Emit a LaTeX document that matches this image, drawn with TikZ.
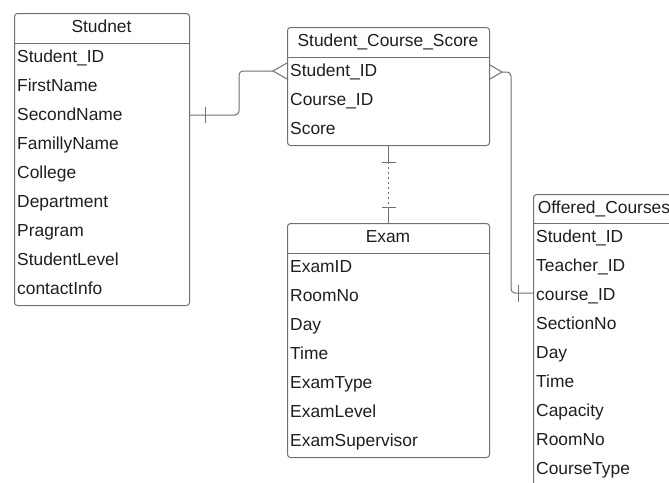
\documentclass[tikz,border=0pt]{standalone}
\usepackage{fontspec}
\setmainfont{Liberation Sans}
\definecolor{boxgray}{HTML}{707070}
\definecolor{textgray}{HTML}{1E1E1E}
\begin{document}
\begin{tikzpicture}[x=1pt,y=-1pt,
  entity/.style={draw=boxgray,line width=1pt,rounded corners=3pt,anchor=north west,inner sep=0pt},
  hline/.style={draw=boxgray,line width=1pt},
  title/.style={anchor=base,inner sep=0pt,text=textgray,font=\fontsize{17.4}{20}\selectfont},
  field/.style={anchor=base west,inner sep=0pt,text=textgray,font=\fontsize{17.4}{20}\selectfont},
  rel/.style={draw=boxgray,line width=1pt,rounded corners=4pt},
  foot/.style={draw=boxgray,line width=1pt}]
\useasboundingbox (0,0) rectangle (669,482);
\clip (0,0) rectangle (669,482);
% tables
\node[entity,minimum width=175pt,minimum height=292pt] (studnet) at (14,13) {};
\node[entity,minimum width=202pt,minimum height=118pt] (scs) at (287,27) {};
\node[entity,minimum width=202pt,minimum height=234pt] (exam) at (287,223) {};
\node[entity,minimum width=142pt,minimum height=306pt] (offered) at (533,194) {};
\draw[hline] ([yshift=-30pt]studnet.north west) -- ([yshift=-30pt]studnet.north east);
\draw[hline] ([yshift=-30pt]scs.north west) -- ([yshift=-30pt]scs.north east);
\draw[hline] ([yshift=-30pt]exam.north west) -- ([yshift=-30pt]exam.north east);
\draw[hline] ([yshift=-29pt]offered.north west) -- ([yshift=-29pt]offered.north east);
% Studnet
\node[title] (studnet-t) at (101.5,32) {Studnet};
\node[field] (stu1) at (17,62) {Student\_ID};
\node[field] (stu2) at (17,91.1) {FirstName};
\node[field] (stu3) at (17,120.2) {SecondName};
\node[field] (stu4) at (17,149.3) {FamillyName};
\node[field] (stu5) at (17,178.4) {College};
\node[field] (stu6) at (17,207.5) {Department};
\node[field] (stu7) at (17,236.6) {Pragram};
\node[field] (stu8) at (17,265.7) {StudentLevel};
\node[field] (stu9) at (17,294.8) {contactInfo};
% Student_Course_Score
\node[title] (scs-t) at (388,46) {Student\_Course\_Score};
\node[field] (scs1) at (290,76) {Student\_ID};
\node[field] (scs2) at (290,105.1) {Course\_ID};
\node[field] (scs3) at (290,134.2) {Score};
% Exam
\node[title] (exam-t) at (388,242) {Exam};
\node[field] (exam1) at (290,272) {ExamID};
\node[field] (exam2) at (290,301.1) {RoomNo};
\node[field] (exam3) at (290,330.2) {Day};
\node[field] (exam4) at (290,359.3) {Time};
\node[field] (exam5) at (290,388.4) {ExamType};
\node[field] (exam6) at (290,417.5) {ExamLevel};
\node[field] (exam7) at (290,446.6) {ExamSupervisor};
% Offered_Courses
\node[title] (offered-t) at (604,213) {Offered\_Courses};
\node[field] (off1) at (536,242) {Student\_ID};
\node[field] (off2) at (536,271.1) {Teacher\_ID};
\node[field] (off3) at (536,300.2) {course\_ID};
\node[field] (off4) at (536,329.3) {SectionNo};
\node[field] (off5) at (536,358.4) {Day};
\node[field] (off6) at (536,387.5) {Time};
\node[field] (off7) at (536,416.6) {Capacity};
\node[field] (off8) at (536,445.7) {RoomNo};
\node[field] (off9) at (536,474.8) {CourseType};
% Studnet -- Student_Course_Score
\coordinate (foot1) at (273,71);
\draw[rel] (studnet.east |- 0,115) -- (239,115) -- (239,71) -- (foot1);
\draw[foot] (scs.west |- 0,63) -- (foot1) -- (scs.west |- 0,79);
\draw[foot] (205,107) -- (205,123);
% Student_Course_Score -- Exam
\coordinate (tick1) at ([yshift=-16pt]scs.south);
\coordinate (tick2) at ([yshift=16pt]exam.north);
\draw[foot] (scs.south) -- (tick1);
\draw[foot,dash pattern=on 2pt off 3pt] (tick1) -- (tick2);
\draw[foot] (tick2) -- (exam.north);
\draw[foot] ([xshift=-7pt]tick1) -- ([xshift=7pt]tick1);
\draw[foot] ([xshift=-7pt]tick2) -- ([xshift=7pt]tick2);
% Student_Course_Score -- Offered_Courses
\coordinate (foot2) at (502,72);
\draw[foot] (scs.east |- 0,65) -- (foot2) -- (scs.east |- 0,79);
\draw[rel] (foot2) -- (511,72) -- (511,293) -- (offered.west |- 0,293);
\draw[foot] (518,285) -- (518,302);
\end{tikzpicture}
\end{document}
